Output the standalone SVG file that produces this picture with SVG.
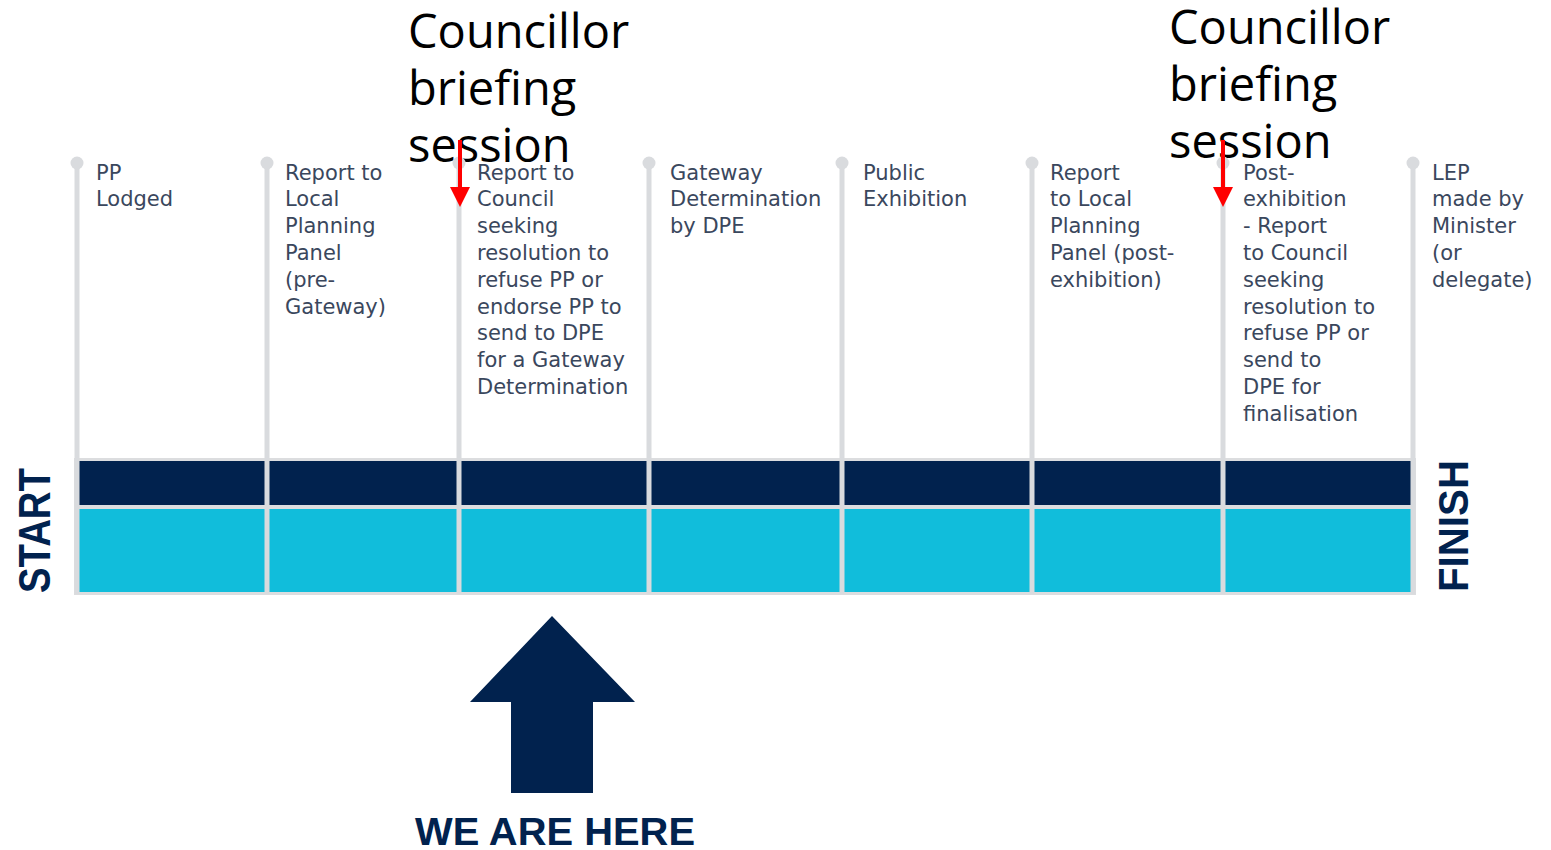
<svg xmlns="http://www.w3.org/2000/svg" width="1551" height="850" viewBox="0 0 1551 850">
  <style>
    .stem { stroke: #d9dbde; stroke-width: 5; fill: none; }
    .dot { fill: #d9dbde; }
    .lbl { font-family: "DejaVu Sans", sans-serif; font-size: 21px; fill: #3a475d; }
    .brief { font-family: "Open Sans", "Liberation Sans", sans-serif; font-size: 47px; fill: #000000; }
    .big { font-family: "Liberation Sans", Arial, sans-serif; font-weight: bold; fill: #01224e; }
    .dark { fill: #01224e; }
    .cyan { fill: #11bddb; }
    .red { stroke: #ff0000; stroke-width: 4; fill: none; }
  </style>
  <defs>
    <marker id="redhead" markerUnits="userSpaceOnUse" markerWidth="20" markerHeight="20" refX="0" refY="10" orient="auto" viewBox="0 0 20 20">
      <path d="M0,0 L20,10 L0,20 Z" fill="#ff0000"/>
    </marker>
  </defs>
  <rect width="1551" height="850" fill="#ffffff"/>

  <g id="timeline-bar">
    <rect x="74" y="458" width="1342" height="137" fill="#dcdddf"/>
    <rect class="dark" x="79" y="461" width="1333" height="44"/>
    <rect class="cyan" x="79" y="509" width="1333" height="83"/>
  </g>

  <g id="start-label">
    <text class="big" font-size="44" text-anchor="middle" textLength="125" lengthAdjust="spacingAndGlyphs" transform="translate(50,530.5) rotate(-90)">START</text>
  </g>
  <g id="finish-label">
    <text class="big" font-size="43" text-anchor="middle" textLength="132" lengthAdjust="spacingAndGlyphs" transform="translate(1468,526) rotate(-90)">FINISH</text>
  </g>

  <g id="step-1">
    <line class="stem" x1="77" y1="163" x2="77" y2="594"/>
    <circle class="dot" cx="77" cy="163" r="6.5"/>
    <text class="lbl" x="96" y="179.5"><tspan x="96">PP</tspan><tspan x="96" dy="26.8">Lodged</tspan></text>
  </g>
  <g id="step-2">
    <line class="stem" x1="267" y1="163" x2="267" y2="594"/>
    <circle class="dot" cx="267" cy="163" r="6.5"/>
    <text class="lbl" x="285" y="179.5"><tspan x="285">Report to</tspan><tspan x="285" dy="26.8">Local</tspan><tspan x="285" dy="26.8">Planning</tspan><tspan x="285" dy="26.8">Panel</tspan><tspan x="285" dy="26.8">(pre-</tspan><tspan x="285" dy="26.8">Gateway)</tspan></text>
  </g>
  <g id="briefing-1">
    <text class="brief" x="408" y="48"><tspan x="408">Councillor</tspan><tspan x="408" dy="57">briefing</tspan><tspan x="408" dy="57">session</tspan></text>
  </g>
  <g id="step-3">
    <line class="stem" x1="459" y1="163" x2="459" y2="594"/>
    <circle class="dot" cx="459" cy="163" r="6.5"/>
    <text class="lbl" x="477" y="179.5"><tspan x="477">Report to</tspan><tspan x="477" dy="26.8">Council</tspan><tspan x="477" dy="26.8">seeking</tspan><tspan x="477" dy="26.8">resolution to</tspan><tspan x="477" dy="26.8">refuse PP or</tspan><tspan x="477" dy="26.8">endorse PP to</tspan><tspan x="477" dy="26.8">send to DPE</tspan><tspan x="477" dy="26.8">for a Gateway</tspan><tspan x="477" dy="26.8">Determination</tspan></text>
  </g>
  <g id="step-4">
    <line class="stem" x1="649" y1="163" x2="649" y2="594"/>
    <circle class="dot" cx="649" cy="163" r="6.5"/>
    <text class="lbl" x="670" y="179.5"><tspan x="670">Gateway</tspan><tspan x="670" dy="26.8">Determination</tspan><tspan x="670" dy="26.8">by DPE</tspan></text>
  </g>
  <g id="step-5">
    <line class="stem" x1="842" y1="163" x2="842" y2="594"/>
    <circle class="dot" cx="842" cy="163" r="6.5"/>
    <text class="lbl" x="863" y="179.5"><tspan x="863">Public</tspan><tspan x="863" dy="26.8">Exhibition</tspan></text>
  </g>
  <g id="step-6">
    <line class="stem" x1="1032" y1="163" x2="1032" y2="594"/>
    <circle class="dot" cx="1032" cy="163" r="6.5"/>
    <text class="lbl" x="1050" y="179.5"><tspan x="1050">Report</tspan><tspan x="1050" dy="26.8">to Local</tspan><tspan x="1050" dy="26.8">Planning</tspan><tspan x="1050" dy="26.8">Panel (post-</tspan><tspan x="1050" dy="26.8">exhibition)</tspan></text>
  </g>
  <g id="briefing-2">
    <text class="brief" x="1169" y="44"><tspan x="1169">Councillor</tspan><tspan x="1169" dy="57">briefing</tspan><tspan x="1169" dy="57">session</tspan></text>
  </g>
  <g id="step-7">
    <line class="stem" x1="1223" y1="163" x2="1223" y2="594"/>
    <circle class="dot" cx="1223" cy="163" r="6.5"/>
    <text class="lbl" x="1243" y="179.5"><tspan x="1243">Post-</tspan><tspan x="1243" dy="26.8">exhibition</tspan><tspan x="1243" dy="26.8">- Report</tspan><tspan x="1243" dy="26.8">to Council</tspan><tspan x="1243" dy="26.8">seeking</tspan><tspan x="1243" dy="26.8">resolution to</tspan><tspan x="1243" dy="26.8">refuse PP or</tspan><tspan x="1243" dy="26.8">send to</tspan><tspan x="1243" dy="26.8">DPE for</tspan><tspan x="1243" dy="26.8">finalisation</tspan></text>
  </g>
  <g id="step-8">
    <line class="stem" x1="1413" y1="163" x2="1413" y2="594"/>
    <circle class="dot" cx="1413" cy="163" r="6.5"/>
    <text class="lbl" x="1432" y="179.5"><tspan x="1432">LEP</tspan><tspan x="1432" dy="26.8">made by</tspan><tspan x="1432" dy="26.8">Minister</tspan><tspan x="1432" dy="26.8">(or</tspan><tspan x="1432" dy="26.8">delegate)</tspan></text>
  </g>

  <g id="we-are-here">
    <polygon class="dark" points="552,616 635,702 593,702 593,793 511,793 511,702 470,702"/>
    <text class="big" font-size="39" x="555" y="845" text-anchor="middle" textLength="280" lengthAdjust="spacingAndGlyphs">WE ARE HERE</text>
  </g>

  <g id="connectors">
    <line class="red" x1="460" y1="140" x2="460" y2="187" marker-end="url(#redhead)"/>
    <line class="red" x1="1223" y1="140" x2="1223" y2="187" marker-end="url(#redhead)"/>
  </g>
</svg>
